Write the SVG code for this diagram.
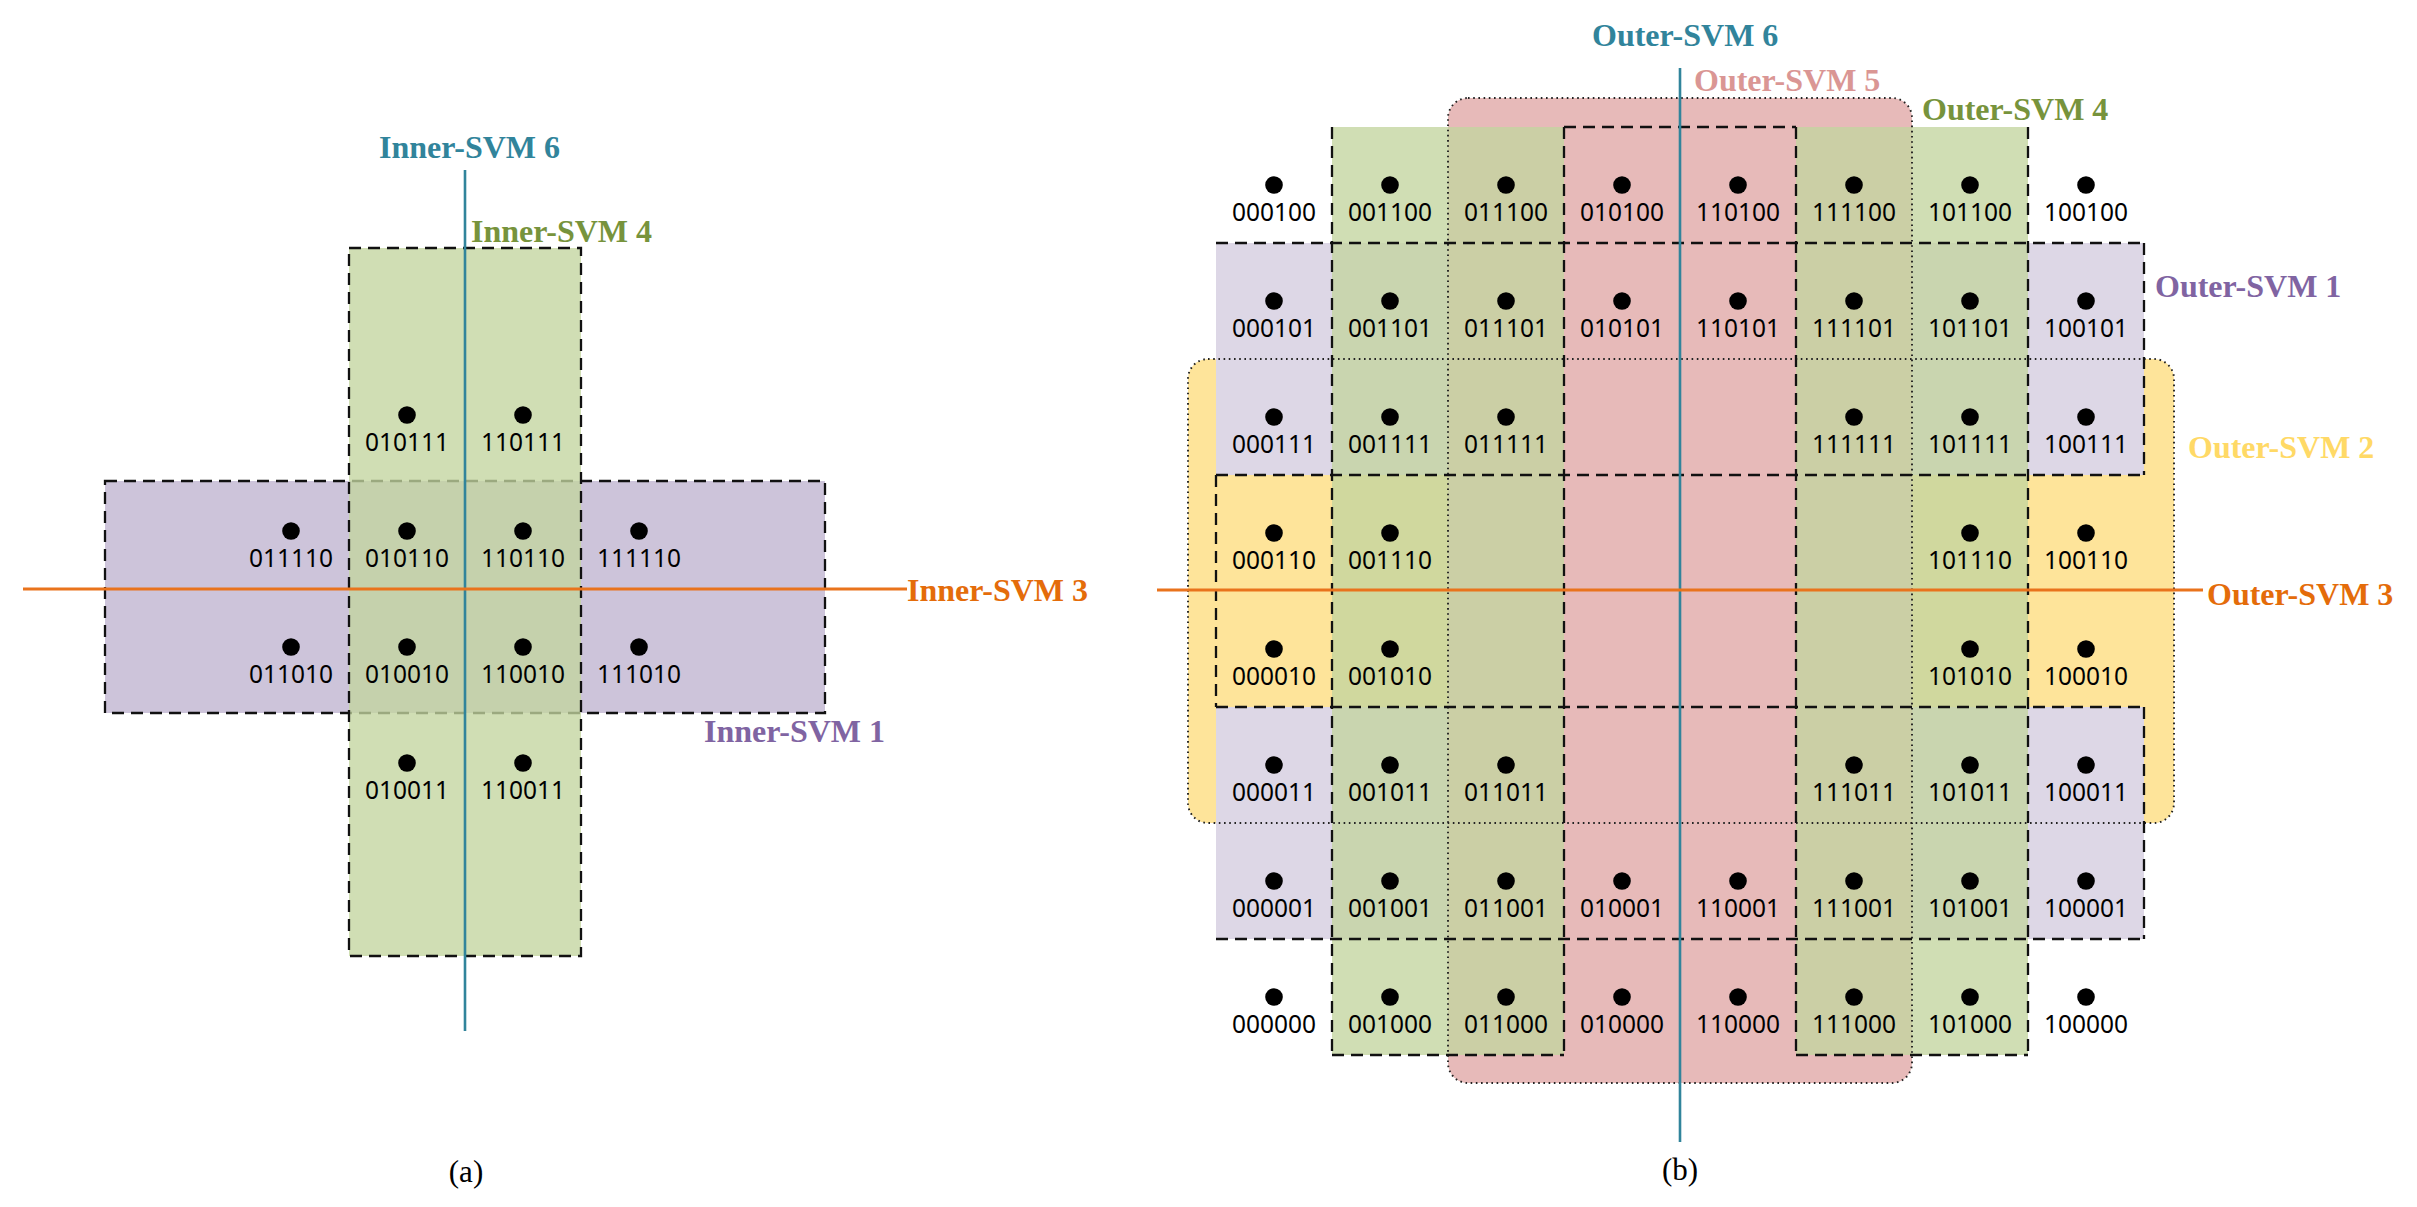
<svg xmlns="http://www.w3.org/2000/svg" width="2417" height="1207" viewBox="0 0 2417 1207">
<style>
.dash{fill:none;stroke:#111;stroke-width:2.3;stroke-dasharray:12 7}
.dot-line{fill:none;stroke:#222;stroke-width:1.9;stroke-dasharray:1.6 3.6}
.pt{fill:#000}
.code{font-family:"Noto Sans","Liberation Sans",sans-serif;font-size:24.5px;fill:#000;text-anchor:middle}
.title{font-family:"Liberation Serif","Times New Roman",serif;font-size:32px;font-weight:bold}
.cap{font-family:"Liberation Serif","Times New Roman",serif;font-size:31px;fill:#000;text-anchor:middle}
.green{fill:#c3d59f;fill-opacity:0.78}
.teal{stroke:#31849b;stroke-width:2.6;fill:none}
.orange{stroke:#e9731c;stroke-width:3;fill:none}
</style>
<rect width="2417" height="1207" fill="#fff"/>

<!-- ===== (a) inner ===== -->
<g id="inner-svm-1">
<rect x="105" y="481" width="720" height="232" fill="#cdc4da"/>
<rect x="105" y="481" width="720" height="232" class="dash"/>
</g>
<g id="inner-svm-4">
<rect x="349" y="248" width="232" height="708" class="green"/>
<rect x="349" y="248" width="232" height="708" class="dash"/>
</g>
<g id="inner-points">
<circle class="pt" cx="407" cy="415" r="8.8"/><text class="code" x="407" y="451">010111</text>
<circle class="pt" cx="523" cy="415" r="8.8"/><text class="code" x="523" y="451">110111</text>
<circle class="pt" cx="291" cy="531" r="8.8"/><text class="code" x="291" y="567">011110</text>
<circle class="pt" cx="407" cy="531" r="8.8"/><text class="code" x="407" y="567">010110</text>
<circle class="pt" cx="523" cy="531" r="8.8"/><text class="code" x="523" y="567">110110</text>
<circle class="pt" cx="639" cy="531" r="8.8"/><text class="code" x="639" y="567">111110</text>
<circle class="pt" cx="291" cy="647" r="8.8"/><text class="code" x="291" y="683">011010</text>
<circle class="pt" cx="407" cy="647" r="8.8"/><text class="code" x="407" y="683">010010</text>
<circle class="pt" cx="523" cy="647" r="8.8"/><text class="code" x="523" y="683">110010</text>
<circle class="pt" cx="639" cy="647" r="8.8"/><text class="code" x="639" y="683">111010</text>
<circle class="pt" cx="407" cy="763" r="8.8"/><text class="code" x="407" y="799">010011</text>
<circle class="pt" cx="523" cy="763" r="8.8"/><text class="code" x="523" y="799">110011</text>
</g>
<g id="inner-lines">
<line class="teal" x1="465" y1="170" x2="465" y2="1031"/>
<line class="orange" x1="23" y1="589" x2="907" y2="589"/>
</g>
<g id="inner-labels">
<text class="title" x="379" y="158" fill="#31849b">Inner-SVM 6</text>
<text class="title" x="471" y="242" fill="#77933c">Inner-SVM 4</text>
<text class="title" x="907" y="601" fill="#e46c0a">Inner-SVM 3</text>
<text class="title" x="704" y="742" fill="#8064a2">Inner-SVM 1</text>
<text class="cap" x="466" y="1182">(a)</text>
</g>

<!-- ===== (b) outer ===== -->
<g id="outer-svm-2">
<rect x="1188" y="359" width="986" height="464" rx="20" ry="20" fill="#fee49a"/>
</g>
<g id="outer-svm-1">
<rect x="1216" y="243" width="928" height="232" fill="#ddd7e6"/>
<rect x="1216" y="707" width="928" height="232" fill="#ddd7e6"/>
</g>
<g id="outer-svm-5">
<rect x="1448" y="98" width="464" height="985" rx="20" ry="20" fill="#e7bab9"/>
</g>
<g id="outer-svm-4">
<rect x="1332" y="127" width="232" height="928" class="green"/>
<rect x="1796" y="127" width="232" height="928" class="green"/>
</g>
<g id="outer-borders">
<rect x="1188" y="359" width="986" height="464" rx="20" ry="20" class="dot-line"/>
<rect x="1448" y="98" width="464" height="985" rx="20" ry="20" class="dot-line"/>
<path class="dash" d="M1332 127V1055M1564 127V1055M1796 127V1055M2028 127V1055M1216 243H2144M1216 475H2144M1216 707H2144M1216 939H2144M1216 475V707M2144 243V475M2144 707V939M1564 127H1796M1332 1055H1564M1796 1055H2028"/>
</g>
<g id="outer-points">
<circle class="pt" cx="1274" cy="185" r="8.8"/><text class="code" x="1274" y="221">000100</text>
<circle class="pt" cx="1390" cy="185" r="8.8"/><text class="code" x="1390" y="221">001100</text>
<circle class="pt" cx="1506" cy="185" r="8.8"/><text class="code" x="1506" y="221">011100</text>
<circle class="pt" cx="1622" cy="185" r="8.8"/><text class="code" x="1622" y="221">010100</text>
<circle class="pt" cx="1738" cy="185" r="8.8"/><text class="code" x="1738" y="221">110100</text>
<circle class="pt" cx="1854" cy="185" r="8.8"/><text class="code" x="1854" y="221">111100</text>
<circle class="pt" cx="1970" cy="185" r="8.8"/><text class="code" x="1970" y="221">101100</text>
<circle class="pt" cx="2086" cy="185" r="8.8"/><text class="code" x="2086" y="221">100100</text>

<circle class="pt" cx="1274" cy="301" r="8.8"/><text class="code" x="1274" y="337">000101</text>
<circle class="pt" cx="1390" cy="301" r="8.8"/><text class="code" x="1390" y="337">001101</text>
<circle class="pt" cx="1506" cy="301" r="8.8"/><text class="code" x="1506" y="337">011101</text>
<circle class="pt" cx="1622" cy="301" r="8.8"/><text class="code" x="1622" y="337">010101</text>
<circle class="pt" cx="1738" cy="301" r="8.8"/><text class="code" x="1738" y="337">110101</text>
<circle class="pt" cx="1854" cy="301" r="8.8"/><text class="code" x="1854" y="337">111101</text>
<circle class="pt" cx="1970" cy="301" r="8.8"/><text class="code" x="1970" y="337">101101</text>
<circle class="pt" cx="2086" cy="301" r="8.8"/><text class="code" x="2086" y="337">100101</text>

<circle class="pt" cx="1274" cy="417" r="8.8"/><text class="code" x="1274" y="453">000111</text>
<circle class="pt" cx="1390" cy="417" r="8.8"/><text class="code" x="1390" y="453">001111</text>
<circle class="pt" cx="1506" cy="417" r="8.8"/><text class="code" x="1506" y="453">011111</text>
<circle class="pt" cx="1854" cy="417" r="8.8"/><text class="code" x="1854" y="453">111111</text>
<circle class="pt" cx="1970" cy="417" r="8.8"/><text class="code" x="1970" y="453">101111</text>
<circle class="pt" cx="2086" cy="417" r="8.8"/><text class="code" x="2086" y="453">100111</text>

<circle class="pt" cx="1274" cy="533" r="8.8"/><text class="code" x="1274" y="569">000110</text>
<circle class="pt" cx="1390" cy="533" r="8.8"/><text class="code" x="1390" y="569">001110</text>
<circle class="pt" cx="1970" cy="533" r="8.8"/><text class="code" x="1970" y="569">101110</text>
<circle class="pt" cx="2086" cy="533" r="8.8"/><text class="code" x="2086" y="569">100110</text>

<circle class="pt" cx="1274" cy="649" r="8.8"/><text class="code" x="1274" y="685">000010</text>
<circle class="pt" cx="1390" cy="649" r="8.8"/><text class="code" x="1390" y="685">001010</text>
<circle class="pt" cx="1970" cy="649" r="8.8"/><text class="code" x="1970" y="685">101010</text>
<circle class="pt" cx="2086" cy="649" r="8.8"/><text class="code" x="2086" y="685">100010</text>

<circle class="pt" cx="1274" cy="765" r="8.8"/><text class="code" x="1274" y="801">000011</text>
<circle class="pt" cx="1390" cy="765" r="8.8"/><text class="code" x="1390" y="801">001011</text>
<circle class="pt" cx="1506" cy="765" r="8.8"/><text class="code" x="1506" y="801">011011</text>
<circle class="pt" cx="1854" cy="765" r="8.8"/><text class="code" x="1854" y="801">111011</text>
<circle class="pt" cx="1970" cy="765" r="8.8"/><text class="code" x="1970" y="801">101011</text>
<circle class="pt" cx="2086" cy="765" r="8.8"/><text class="code" x="2086" y="801">100011</text>

<circle class="pt" cx="1274" cy="881" r="8.8"/><text class="code" x="1274" y="917">000001</text>
<circle class="pt" cx="1390" cy="881" r="8.8"/><text class="code" x="1390" y="917">001001</text>
<circle class="pt" cx="1506" cy="881" r="8.8"/><text class="code" x="1506" y="917">011001</text>
<circle class="pt" cx="1622" cy="881" r="8.8"/><text class="code" x="1622" y="917">010001</text>
<circle class="pt" cx="1738" cy="881" r="8.8"/><text class="code" x="1738" y="917">110001</text>
<circle class="pt" cx="1854" cy="881" r="8.8"/><text class="code" x="1854" y="917">111001</text>
<circle class="pt" cx="1970" cy="881" r="8.8"/><text class="code" x="1970" y="917">101001</text>
<circle class="pt" cx="2086" cy="881" r="8.8"/><text class="code" x="2086" y="917">100001</text>

<circle class="pt" cx="1274" cy="997" r="8.8"/><text class="code" x="1274" y="1033">000000</text>
<circle class="pt" cx="1390" cy="997" r="8.8"/><text class="code" x="1390" y="1033">001000</text>
<circle class="pt" cx="1506" cy="997" r="8.8"/><text class="code" x="1506" y="1033">011000</text>
<circle class="pt" cx="1622" cy="997" r="8.8"/><text class="code" x="1622" y="1033">010000</text>
<circle class="pt" cx="1738" cy="997" r="8.8"/><text class="code" x="1738" y="1033">110000</text>
<circle class="pt" cx="1854" cy="997" r="8.8"/><text class="code" x="1854" y="1033">111000</text>
<circle class="pt" cx="1970" cy="997" r="8.8"/><text class="code" x="1970" y="1033">101000</text>
<circle class="pt" cx="2086" cy="997" r="8.8"/><text class="code" x="2086" y="1033">100000</text>
</g>
<g id="outer-lines">
<line class="teal" x1="1680" y1="68" x2="1680" y2="1142"/>
<line class="orange" x1="1157" y1="590" x2="2203" y2="590"/>
</g>
<g id="outer-labels">
<text class="title" x="1592" y="46" fill="#31849b">Outer-SVM 6</text>
<text class="title" x="1694" y="91" fill="#da9694">Outer-SVM 5</text>
<text class="title" x="1922" y="120" fill="#77933c">Outer-SVM 4</text>
<text class="title" x="2155" y="297" fill="#8064a2">Outer-SVM 1</text>
<text class="title" x="2188" y="458" fill="#ffd966">Outer-SVM 2</text>
<text class="title" x="2207" y="605" fill="#e46c0a">Outer-SVM 3</text>
<text class="cap" x="1680" y="1180">(b)</text>
</g>
</svg>
